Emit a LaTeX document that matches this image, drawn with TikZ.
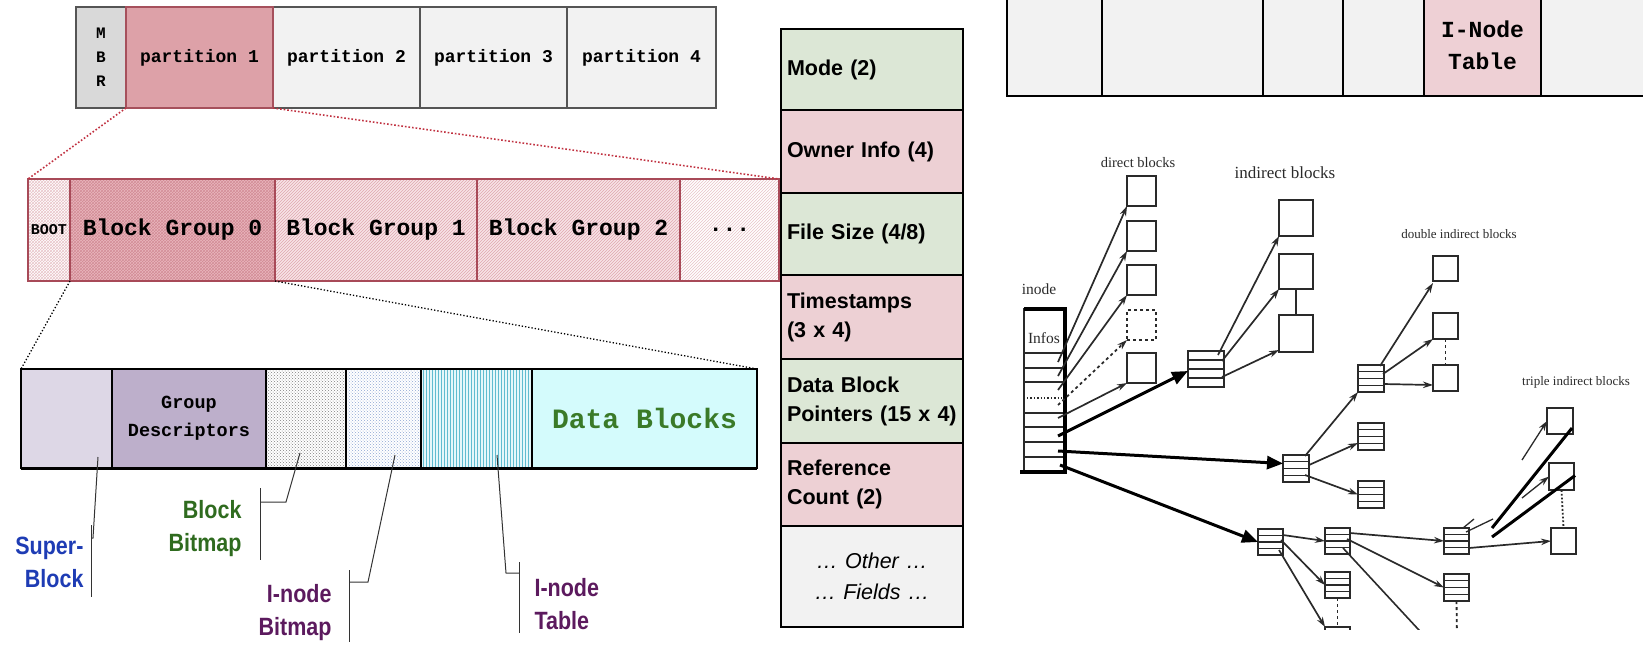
\documentclass[tikz,border=0pt]{standalone}
\usepackage{fontspec}
\setmainfont{Liberation Serif}
\newfontfamily\cour{Liberation Mono}
\newfontfamily\hel{Liberation Sans}
\newfontfamily\heln[FakeStretch=0.86]{Liberation Sans}
\usetikzlibrary{patterns,arrows.meta,calc}
\definecolor{mbrgray}{HTML}{D9D9D9}
\definecolor{lightg}{HTML}{F2F2F2}
\definecolor{rowgray}{HTML}{555555}
\definecolor{pinkfill}{HTML}{DDA1A8}
\definecolor{pinkborder}{HTML}{A6505C}
\definecolor{bgborder}{HTML}{A84A58}
\definecolor{bgzfill}{HTML}{E9B6BD}
\definecolor{bgzpat}{HTML}{D38C96}
\definecolor{bgfill}{HTML}{F7E4E7}
\definecolor{bgpat}{HTML}{DFA6AE}
\definecolor{bootpat}{HTML}{E9C3C8}
\definecolor{dotred}{HTML}{C0303F}
\definecolor{sbfill}{HTML}{DDD7E6}
\definecolor{gdfill}{HTML}{BDAFCB}
\definecolor{ibpat}{HTML}{8EA6D2}
\definecolor{itfill}{HTML}{E4F7FA}
\definecolor{itpat}{HTML}{5FBCD0}
\definecolor{dbfill}{HTML}{D4FBFC}
\definecolor{dbgreen}{HTML}{3A7A28}
\definecolor{fgreen}{HTML}{DCE7D6}
\definecolor{fpink}{HTML}{EDD0D4}
\definecolor{sbblue}{HTML}{1E3CB4}
\definecolor{bbgreen}{HTML}{2F6B1F}
\definecolor{inpurple}{HTML}{5C1A5E}
\definecolor{tpink}{HTML}{EED0D5}
\definecolor{treegray}{HTML}{2A2A2A}
\definecolor{leadgray}{HTML}{333333}
\begin{document}
\begin{tikzpicture}[x=1pt,y=-1pt,
  cell/.style={draw, inner sep=0pt, outer sep=0pt, anchor=north west, align=center},
  toprow/.style={cell, draw=rowgray, line width=1.6pt, minimum height=101pt, font=\cour\bfseries\fontsize{18}{25}\selectfont},
  bgrow/.style={cell, draw=bgborder, line width=1.4pt, minimum height=102pt, font=\cour\bfseries\fontsize{23}{26}\selectfont},
  blkrow/.style={cell, draw=black, line width=1.8pt, minimum height=99pt, font=\cour\bfseries\fontsize{18.5}{28}\selectfont},
  field/.style={cell, draw=black, line width=1.6pt, text width=170pt, inner xsep=6pt, align=left, font=\hel\bfseries\fontsize{21.5}{29}\selectfont},
  tabcell/.style={cell, draw=black, line width=1.6pt, minimum height=101pt, font=\cour\bfseries\fontsize{23}{40}\selectfont},
  lbl/.style={font=\heln\bfseries\fontsize{25}{33}\selectfont},
  leader/.style={draw=leadgray, line width=1pt},
  zoomred/.style={draw=dotred, line width=1.6pt, dotted},
  zoomblack/.style={draw=black, line width=1.3pt, dotted},
  sq/.style={draw=treegray, line width=1.4pt, inner sep=0pt, outer sep=0pt},
  stk/.style={sq, path picture={\foreach \f in {0.25,0.5,0.75}{\draw[treegray,line width=1.1pt] ($(path picture bounding box.north west)!\f!(path picture bounding box.south west)$) -- ($(path picture bounding box.north east)!\f!(path picture bounding box.south east)$);}}},
  thin/.style={draw=treegray, line width=1.7pt, -{Stealth[length=10pt,width=6.5pt]}},
  thick/.style={draw=black, line width=3pt, -{Triangle[length=16pt,width=13pt]}},
  treetxt/.style={text=treegray, inner sep=0pt}
]
\useasboundingbox (0,0) rectangle (1643,662);

% ---------- partition row ----------
\node[toprow, fill=mbrgray, minimum width=50pt, font=\cour\bfseries\fontsize{16}{24}\selectfont] (mbr) at (76,7) {M\\B\\R};
\node[toprow, fill=lightg, minimum width=147pt] (p2) at (273,7) {partition 2};
\node[toprow, fill=lightg, minimum width=147pt] (p3) at (420,7) {partition 3};
\node[toprow, fill=lightg, minimum width=149pt] (p4) at (567,7) {partition 4};
\node[toprow, fill=pinkfill, draw=pinkborder, minimum width=147pt] (p1) at (126,7) {partition 1};

% ---------- block group row ----------
\node[bgrow, preaction={fill=white}, pattern=crosshatch, pattern color=bootpat, minimum width=42pt, font=\cour\bfseries\fontsize{15}{18}\selectfont] (boot) at (28,179) {BOOT};
\node[bgrow, preaction={fill=bgzfill}, pattern=crosshatch, pattern color=bgzpat, minimum width=205pt] (bg0) at (70,179) {Block Group 0};
\node[bgrow, preaction={fill=bgfill}, pattern=north east lines, pattern color=bgpat, minimum width=202pt] (bg1) at (275,179) {Block Group 1};
\node[bgrow, preaction={fill=bgfill}, pattern=north east lines, pattern color=bgpat, minimum width=203pt] (bg2) at (477,179) {Block Group 2};
\node[bgrow, preaction={fill=white}, pattern=north east lines, pattern color=bootpat, minimum width=99pt] (bgd) at (680,179) {...};

\draw[zoomred] (p1.south west) -- (boot.north west);
\draw[zoomred] (p1.south east) -- (bgd.north east);

% ---------- block group 0 detail ----------
\node[blkrow, fill=sbfill, minimum width=91pt] (sb) at (21,369) {};
\node[blkrow, fill=gdfill, minimum width=154pt] (gd) at (112,369) {Group\\Descriptors};
\node[blkrow, preaction={fill=white}, pattern=crosshatch dots, pattern color=gray, minimum width=80pt] (bb) at (266,369) {};
\node[blkrow, preaction={fill=white}, pattern=crosshatch dots, pattern color=ibpat, minimum width=75pt] (ib) at (346,369) {};
\node[blkrow, preaction={fill=itfill}, pattern=vertical lines, pattern color=itpat, minimum width=111pt] (it) at (421,369) {};
\node[blkrow, fill=dbfill, minimum width=225pt, text=dbgreen, font=\cour\bfseries\fontsize{28}{30}\selectfont] (db) at (532,369) {Data Blocks};
\draw[black, line width=3pt] (sb.south west) -- (db.south east);

\draw[zoomblack] (bg0.south west) -- (sb.north west);
\draw[zoomblack] (bg0.south east) -- (db.north east);

% labels and leaders
\node[lbl, text=sbblue, anchor=east, align=right] (sbl) at (87,562) {Super-\\Block};
\node[lbl, text=bbgreen, anchor=east, align=right] (bbl) at (245,529) {Block\\Bitmap};
\node[lbl, text=inpurple, anchor=east, align=right] (ibl) at (335,613) {I-node\\Bitmap};
\node[lbl, text=inpurple, anchor=west, align=left] (itl) at (531,604) {I-node\\Table};

\coordinate (sbA) at (98,457); \coordinate (sbB) at (93,538);
\draw[leader] (sbA) -- (sbB) -- (91,538);
\draw[leader] (91,525) -- (91,597);
\coordinate (bbA) at (300,453); \coordinate (bbB) at (286,502);
\draw[leader] (bbA) -- (bbB) -- (260,502);
\draw[leader] (260,488) -- (260,560);
\coordinate (ibA) at (395,455); \coordinate (ibB) at (368,582);
\draw[leader] (ibA) -- (ibB) -- (349,582);
\draw[leader] (349,570) -- (349,642);
\coordinate (itA) at (497,455); \coordinate (itB) at (506,573);
\draw[leader] (itA) -- (itB) -- (519,573);
\draw[leader] (519,562) -- (519,633);

% ---------- inode fields ----------
\node[field, fill=fgreen, minimum height=81pt] (mode) at (781,29) {Mode (2)};
\node[field, fill=fpink, minimum height=83pt] (owner) at (781,110) {Owner Info (4)};
\node[field, fill=fgreen, minimum height=82pt] (fsize) at (781,193) {File Size (4/8)};
\node[field, fill=fpink, minimum height=84pt] (tstamp) at (781,275) {Timestamps\\(3 x 4)};
\node[field, fill=fgreen, minimum height=84pt] (dbp) at (781,359) {Data Block\\Pointers (15 x 4)};
\node[field, fill=fpink, minimum height=83pt] (rcount) at (781,443) {Reference\\Count (2)};
\node[field, fill=lightg, minimum height=101pt, align=center, font=\hel\itshape\fontsize{21.5}{31}\selectfont] (other) at (781,526) {\dots{} Other \dots\\\dots{} Fields \dots};

% ---------- top right table ----------
\node[tabcell, fill=lightg, minimum width=95pt] (tc1) at (1007,-5) {};
\node[tabcell, fill=lightg, minimum width=161pt] (tc2) at (1102,-5) {};
\node[tabcell, fill=lightg, minimum width=80pt] (tc3) at (1263,-5) {};
\node[tabcell, fill=lightg, minimum width=81pt] (tc4) at (1343,-5) {};
\node[tabcell, fill=tpink, minimum width=117pt] (tc5) at (1424,-5) {\raisebox{-8pt}{I-Node}\\Table};
\node[tabcell, fill=lightg, minimum width=120pt] (tc6) at (1541,-5) {};

% ---------- block pointer tree ----------
\begin{scope}
\clip (970,120) rectangle (1643,629);
\node[treetxt, font=\fontsize{14.5}{16}\selectfont] (tdirect) at (1138,163) {direct blocks};
\node[treetxt, font=\fontsize{17}{19}\selectfont] (tindirect) at (1285,173) {indirect blocks};
\node[treetxt, font=\fontsize{13}{15}\selectfont] (tdouble) at (1459,234) {double indirect blocks};
\node[treetxt, font=\fontsize{13}{15}\selectfont] (ttriple) at (1576,382) {triple indirect blocks};
\node[treetxt, font=\fontsize{15.5}{17}\selectfont] (tinode) at (1039,289) {inode};

% inode
\node[sq, anchor=north west, minimum width=41pt, minimum height=163pt, line width=1.5pt] (inode) at (1024,309) {};
\node[treetxt, font=\fontsize{15.5}{17}\selectfont] (tinfos) at (1044,338) {Infos};
\foreach \yy in {353,368,382,413,427,442,457}{\draw[treegray, line width=1.2pt] (1025,\yy) -- (1064,\yy);}
\draw[treegray, line width=1.4pt, dotted] (1027,398) -- (1062,398);
\draw[black, line width=3.5pt] (inode.north west) -- (inode.north east) -- (inode.south east) -- ([xshift=-4pt]inode.south west);

% direct blocks
\node[sq, minimum width=29pt, minimum height=30pt] (d1) at (1141.5,191) {};
\node[sq, minimum width=29pt, minimum height=30pt] (d2) at (1141.5,236) {};
\node[sq, minimum width=29pt, minimum height=30pt] (d3) at (1141.5,280) {};
\node[sq, minimum width=29pt, minimum height=30pt, dashed] (d4) at (1141.5,325) {};
\node[sq, minimum width=29pt, minimum height=30pt] (d5) at (1141.5,368) {};
\coordinate (i1) at (1058,362); \coordinate (i2) at (1058,376); \coordinate (i3) at (1058,390);
\coordinate (i4) at (1058,405); \coordinate (i5) at (1058,418);
\draw[thin] (i1) -- (d1.south west);
\draw[thin] (i2) -- (d2.south west);
\draw[thin] (i3) -- (d3.south west);
\draw[thin, dashed] (i4) -- (d4.south west);
\draw[thin] (i5) -- (d5.south west);

% single indirect
\node[stk, minimum width=36pt, minimum height=36pt] (si) at (1206,369) {};
\node[sq, minimum width=34pt, minimum height=36pt] (ind1) at (1296,218) {};
\node[sq, minimum width=34pt, minimum height=35pt] (ind2) at (1296,271.5) {};
\node[sq, minimum width=34pt, minimum height=37pt] (ind3) at (1296,333.5) {};
\draw[treegray, line width=1.8pt] (ind2.south) -- (ind3.north);
\coordinate (is) at (1058,436);
\draw[thick] (is) -- ([yshift=-2pt]si.west);
\coordinate (s1) at (1218,355); \coordinate (s2) at (1222,361); \coordinate (s3) at (1222,377);
\draw[thin] (s1) -- (ind1.south west);
\draw[thin] (s2) -- (ind2.south west);
\draw[thin] (s3) -- ([yshift=2pt]ind3.south west);

% double indirect
\node[stk, minimum width=26pt, minimum height=27pt] (dl1) at (1296,468.5) {};
\node[stk, minimum width=26pt, minimum height=27pt] (dl2a) at (1371,378.5) {};
\node[stk, minimum width=26pt, minimum height=27pt] (dl2b) at (1371,436.5) {};
\node[stk, minimum width=26pt, minimum height=27pt] (dl2c) at (1371,494.5) {};
\node[sq, minimum width=25pt, minimum height=25pt] (dd1) at (1445.5,268.5) {};
\node[sq, minimum width=25pt, minimum height=26pt] (dd2) at (1445.5,326) {};
\node[sq, minimum width=25pt, minimum height=26pt] (dd3) at (1445.5,378) {};
\draw[treegray, line width=1.8pt, dashed] (dd2.south) -- (dd3.north);
\coordinate (id) at (1058,451);
\draw[thick] (id) -- ([yshift=5pt]dl1.west);
\coordinate (e1) at (1305,456); \coordinate (e2) at (1309,465); \coordinate (e3) at (1305,475);
\draw[thin] (e1) -- (dl2a.south west);
\draw[thin] (e2) -- ([yshift=7pt]dl2b.south west);
\draw[thin] (e3) -- (dl2c.west);
\coordinate (f1) at (1380,366); \coordinate (f2) at (1383,374); \coordinate (f3) at (1383,384);
\draw[thin] (f1) -- ([yshift=-2pt]dd1.south west);
\draw[thin] (f2) -- (dd2.south west);
\draw[thin] (f3) -- ([yshift=6pt]dd3.south west);

% triple indirect
\node[stk, minimum width=25pt, minimum height=26pt] (tl1) at (1270.5,542) {};
\node[stk, minimum width=25pt, minimum height=26pt] (ta) at (1337.5,541) {};
\node[stk, minimum width=25pt, minimum height=26pt] (tb) at (1337.5,585) {};
\node[stk, minimum width=25pt, minimum height=26pt] (tcc) at (1337.5,640) {};
\node[stk, minimum width=25pt, minimum height=26pt] (tC) at (1456.5,541) {};
\node[stk, minimum width=25pt, minimum height=27pt] (tD) at (1456.5,587.5) {};
\node[sq, minimum width=26pt, minimum height=26pt] (tE) at (1560,421) {};
\node[sq, minimum width=25pt, minimum height=27pt] (tF) at (1561.5,476.5) {};
\node[sq, minimum width=25pt, minimum height=26pt] (tG) at (1563.5,541) {};
\draw[treegray, line width=1.8pt, dotted] (tF.south) -- (tG.north);
\draw[treegray, line width=1.8pt, dashed] (tb.south) -- (tcc.north);
\coordinate (tDdown) at (1457,640);
\draw[treegray, line width=1.8pt, dashed] (tD.south) -- (tDdown);
\coordinate (it3) at (1060,465);
\draw[thick] (it3) -- (tl1.west);
\coordinate (g1) at (1283,535); \coordinate (g2) at (1281,540); \coordinate (g3) at (1279,550);
\draw[thin] (g1) -- (ta.west);
\draw[thin] (g2) -- (tb.west);
\draw[thin] (g3) -- (tcc.north west);
\coordinate (h1) at (1350,533); \coordinate (h2) at (1347,539); \coordinate (h3) at (1343,548);
\coordinate (hdown) at (1430,642);
\draw[thin] (h1) -- (tC.west);
\draw[thin] (h2) -- (tD.west);
\draw[treegray, line width=1.6pt] (h3) -- (hdown);
\coordinate (k1) at (1469,548);
\draw[thin] (k1) -- (tG.west);
\draw[treegray, line width=1.3pt] (1466,532) -- (1493,519);
\draw[treegray, line width=1.3pt] (1463,528) -- (1474,519);
\coordinate (m1) at (1522,460); \coordinate (m2) at (1522,498);
\draw[thin, line width=1.3pt] (m1) -- (tE.west);
\draw[thin, line width=1.3pt] (m2) -- (tF.west);
\coordinate (n1) at (1492,528); \coordinate (n2) at (1492,537);
\draw[black, line width=3pt] (n1) -- ($(tE.south east)+(-1,-6)$);
\draw[black, line width=3pt] (n2) -- ($(tF.east)+(1,-1)$);
\end{scope}
\end{tikzpicture}
\end{document}
